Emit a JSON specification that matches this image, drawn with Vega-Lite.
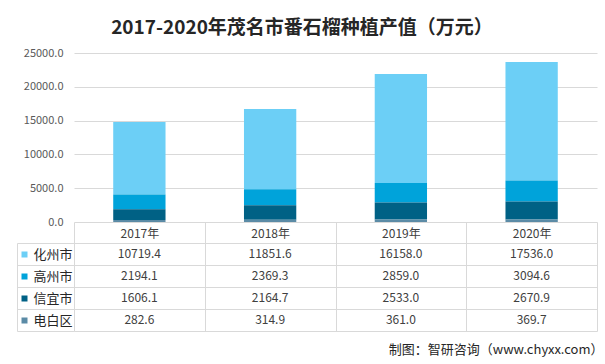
{
  "$schema": "https://vega.github.io/schema/vega-lite/v6.json",
  "background": "white",
  "padding": {"left": 16, "top": 19, "right": 3, "bottom": 2},
  "config": {"view": {"stroke": null}, "font": "Noto Sans CJK SC"},
  "title": {"text": "2017-2020年茂名市番石榴种植产值（万元）", "fontSize": 19, "fontWeight": "bold", "color": "#262626", "anchor": "middle", "offset": 9, "dx": -8},
  "datasets": {
    "d": [
      {"series": "化州市", "year": "2017年", "value": 10719.4, "k": 4},
      {"series": "化州市", "year": "2018年", "value": 11851.6, "k": 4},
      {"series": "化州市", "year": "2019年", "value": 16158.0, "k": 4},
      {"series": "化州市", "year": "2020年", "value": 17536.0, "k": 4},
      {"series": "高州市", "year": "2017年", "value": 2194.1, "k": 3},
      {"series": "高州市", "year": "2018年", "value": 2369.3, "k": 3},
      {"series": "高州市", "year": "2019年", "value": 2859.0, "k": 3},
      {"series": "高州市", "year": "2020年", "value": 3094.6, "k": 3},
      {"series": "信宜市", "year": "2017年", "value": 1606.1, "k": 2},
      {"series": "信宜市", "year": "2018年", "value": 2164.7, "k": 2},
      {"series": "信宜市", "year": "2019年", "value": 2533.0, "k": 2},
      {"series": "信宜市", "year": "2020年", "value": 2670.9, "k": 2},
      {"series": "电白区", "year": "2017年", "value": 282.6, "k": 1},
      {"series": "电白区", "year": "2018年", "value": 314.9, "k": 1},
      {"series": "电白区", "year": "2019年", "value": 361.0, "k": 1},
      {"series": "电白区", "year": "2020年", "value": 369.7, "k": 1}
    ]
  },
  "bounds": "flush",
  "spacing": 21,
  "resolve": {"scale": {"x": "independent", "y": "independent"}},
  "vconcat": [
    {
      "width": 523,
      "height": 169,
      "data": {"name": "d"},
      "mark": {"type": "bar"},
      "encoding": {
        "x": {"field": "year", "type": "nominal", "sort": null, "scale": {"paddingInner": 0.6, "paddingOuter": 0.3}, "axis": null},
        "y": {"field": "value", "type": "quantitative", "stack": "zero", "scale": {"domain": [0, 25000]},
          "axis": {"values": [0, 5000, 10000, 15000, 20000, 25000], "format": ".1f", "title": null, "domain": false, "ticks": false, "labelPadding": 11, "labelColor": "#595959", "labelFontSize": 11, "gridColor": "#D9D9D9"}},
        "color": {"field": "series", "type": "nominal",
          "scale": {"domain": ["化州市", "高州市", "信宜市", "电白区"], "range": ["#6CCFF6", "#00A3DA", "#006185", "#5B8BA6"]}, "legend": null},
        "order": {"field": "k", "type": "quantitative"}
      }
    },
    {
      "width": 523,
      "height": 88,
      "data": {"name": "d"},
      "title": {"text": "制图：智研咨询（www.chyxx.com）", "orient": "bottom", "anchor": "end", "fontSize": 13, "fontWeight": "normal", "color": "#262626", "offset": 12, "dx": 6},
      "encoding": {
        "x": {"field": "year", "type": "nominal", "sort": null, "scale": {"paddingInner": 0, "paddingOuter": 0},
          "axis": {"orient": "top", "title": null, "tickBand": "extent", "tickSize": 21, "tickColor": "#D9D9D9", "domainColor": "#D9D9D9", "labelPadding": -18, "labelFontSize": 12, "labelColor": "#404040", "labelAngle": 0, "grid": true, "gridColor": "#D9D9D9"}}
      },
      "layer": [
        {
          "mark": {"type": "text", "opacity": 0},
          "encoding": {
            "y": {"field": "series", "type": "nominal", "scale": {"domain": ["化州市", "高州市", "信宜市", "电白区"], "paddingInner": 0, "paddingOuter": 0},
              "axis": {"orient": "left", "offset": 57, "title": null, "domain": true, "domainColor": "#D9D9D9", "labels": false, "ticks": false, "grid": false}},
            "text": {"field": "series", "type": "nominal"}
          }
        },
        {
          "mark": {"type": "text", "opacity": 0},
          "encoding": {
            "y": {"field": "series", "type": "nominal", "scale": {"domain": ["化州市", "高州市", "信宜市", "电白区"], "paddingInner": 0, "paddingOuter": 0},
              "axis": {"orient": "left", "offset": 47, "title": null, "domain": false, "labels": false, "grid": false, "tickSize": 6, "tickWidth": 6,
                "tickColor": {"condition": [
                  {"test": "datum.value === '化州市'", "value": "#6CCFF6"},
                  {"test": "datum.value === '高州市'", "value": "#00A3DA"},
                  {"test": "datum.value === '信宜市'", "value": "#006185"}
                ], "value": "#5B8BA6"}}},
            "text": {"field": "series", "type": "nominal"}
          }
        },
        {
          "mark": {"type": "text", "fontSize": 12, "color": "#404040"},
          "encoding": {
            "y": {"field": "series", "type": "nominal", "scale": {"domain": ["化州市", "高州市", "信宜市", "电白区"], "paddingInner": 0, "paddingOuter": 0},
              "axis": {"orient": "left", "title": null, "tickBand": "extent", "tickSize": 57, "tickColor": "#D9D9D9", "domain": false, "labelAlign": "left", "labelPadding": -16, "labelFontSize": 13, "labelColor": "#262626", "grid": true, "gridColor": "#D9D9D9"}},
            "text": {"field": "value", "type": "quantitative", "format": ".1f"}
          }
        }
      ],
      "resolve": {"axis": {"y": "independent"}}
    }
  ]
}
